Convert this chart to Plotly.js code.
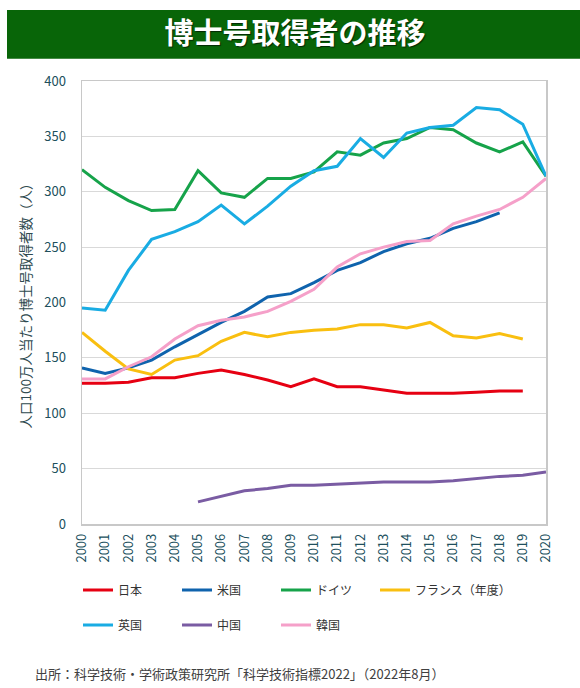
<!DOCTYPE html>
<html>
<head>
<meta charset="utf-8">
<script src="https://cdn.plot.ly/plotly-3.0.1.min.js"></script>
<style>
  html, body { margin: 0; padding: 0; background: #fff; }
  #chart { width: 580px; height: 688px; }
</style>
</head>
<body>
<div id="chart"></div>
<script>
// ---- Data ----
const years = [2000,2001,2002,2003,2004,2005,2006,2007,2008,2009,2010,2011,2012,2013,2014,2015,2016,2017,2018,2019,2020];
const seriesNames = ["日本","米国","ドイツ","フランス（年度）","英国","中国","韓国"];
const japan   = [127,127,128,132,132,136,139,135,130,124,131,124,124,121,118,118,118,119,120,120,null];
const usa     = [141,136,141,148,160,171,182,192,205,208,218,229,236,246,253,258,267,273,281,null,null];
const germany = [320,304,292,283,284,319,299,295,312,312,318,336,333,344,348,358,356,344,336,345,314];
const france  = [173,156,140,135,148,152,165,173,169,173,175,176,180,180,177,182,170,168,172,167,null];
const uk      = [195,193,229,257,264,273,288,271,287,305,319,323,348,331,353,358,360,376,374,361,314];
const china   = [null,null,null,null,null,20,25,30,32,35,35,36,37,38,38,38,39,41,43,44,47];
const korea   = [131,131,142,151,167,179,184,187,192,201,212,232,244,250,255,256,271,278,284,295,312];
const yTicks  = [0,50,100,150,200,250,300,350,400];
const titleText = "博士号取得者の推移";
const yTitleText = "人口100万人当たり博士号取得者数（人）";
const sourceText = "出所：科学技術・学術政策研究所「科学技術指標2022」（2022年8月）";

const seriesData = [japan, usa, germany, france, uk, china, korea];
const colors = ["#e60012","#0f63ad","#16a34a","#f9bf10","#19ace3","#7a5ca3","#f5a0c9"];
const legendIds = ["legend","legend","legend","legend3","legend2","legend2","legend2"];

const FONT = "'Noto Sans CJK JP', 'Noto Sans', sans-serif";

const traces = seriesData.map((vals, i) => ({
  type: "scatter",
  mode: "lines",
  x: years,
  y: vals,
  name: seriesNames[i],
  line: { color: colors[i], width: 3 },
  connectgaps: false,
  legend: legendIds[i],
  hoverinfo: "skip"
}));

const legendCommon = {
  orientation: "h",
  xanchor: "left",
  yanchor: "middle",
  x: -0.0086,
  entrywidth: 54,
  entrywidthmode: "pixels",
  font: { family: FONT, size: 12, color: "#333333" },
  bgcolor: "rgba(0,0,0,0)",
  itemclick: false,
  itemdoubleclick: false
};

const layout = {
  width: 580,
  height: 688,
  paper_bgcolor: "#ffffff",
  plot_bgcolor: "#ffffff",
  margin: { l: 82, r: 34, t: 81, b: 164, autoexpand: false },
  showlegend: true,
  font: { family: FONT, color: "#204f5c" },
  title: {
    text: "<b>" + titleText + "</b>",
    font: { family: FONT, size: 29, color: "#ffffff", shadow: "1px 1px 1px rgba(0,0,0,0.6)" },
    x: 295 / 580,
    xanchor: "center",
    xref: "container",
    y: 1 - 33.5 / 688,
    yanchor: "middle",
    yref: "container"
  },
  shapes: [{
    type: "rect",
    xref: "paper", yref: "paper",
    x0: (7 - 82) / 464, x1: (580 - 82) / 464,
    y0: (524 - 58.7) / 443, y1: (524 - 10) / 443,
    fillcolor: "#086508",
    line: { width: 0 },
    layer: "below"
  }],
  xaxis: {
    range: [2000, 2020],
    tickmode: "array",
    tickvals: years,
    ticktext: years.map(String),
    tickangle: -90,
    tickfont: { family: FONT, size: 13, color: "#204f5c" },
    showgrid: false,
    zeroline: false,
    showline: true,
    linecolor: "#c8c8c8",
    linewidth: 1.5,
    mirror: true,
    ticks: "",
    ticklabelstandoff: 3,
    fixedrange: true
  },
  yaxis: {
    range: [0, 400],
    tickmode: "array",
    tickvals: yTicks,
    ticktext: yTicks.map(String),
    tickfont: { family: FONT, size: 13, color: "#204f5c" },
    showgrid: true,
    gridcolor: "#d9d9d9",
    gridwidth: 1.2,
    zeroline: false,
    showline: true,
    linecolor: "#c8c8c8",
    linewidth: 1.5,
    mirror: true,
    ticks: "",
    ticklabelstandoff: 12,
    title: {
      text: yTitleText,
      font: { family: FONT, size: 13.5, color: "#2f4a4f" },
      standoff: 9
    },
    fixedrange: true
  },
  legend: Object.assign({}, legendCommon, { y: (524 - 590) / 443 }),
  legend2: Object.assign({}, legendCommon, { y: (524 - 625) / 443 }),
  legend3: Object.assign({}, legendCommon, { y: (524 - 590) / 443, x: (375 - 82) / 464, entrywidth: 0 }),
  annotations: [{
    text: sourceText,
    xref: "paper", yref: "paper",
    x: (33 - 82) / 464, xanchor: "left",
    y: (524 - 673) / 443, yanchor: "middle",
    showarrow: false,
    font: { family: FONT, size: 13, color: "#404040" }
  }]
};

Plotly.newPlot("chart", traces, layout, { displayModeBar: false, staticPlot: true });
</script>
</body>
</html>
